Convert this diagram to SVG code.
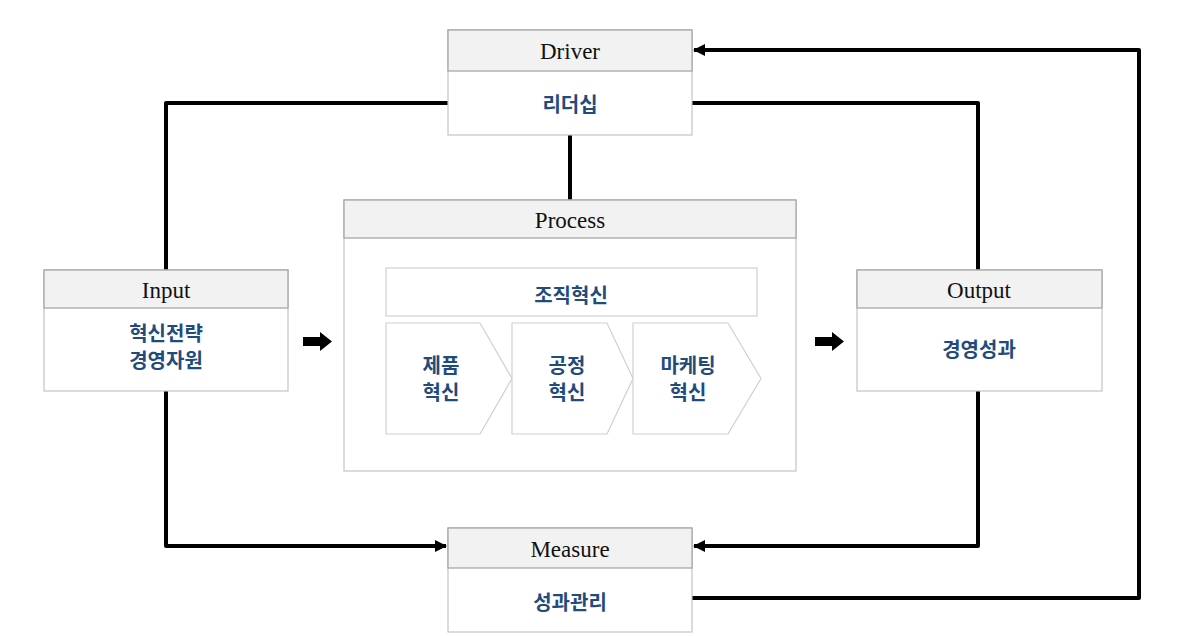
<svg xmlns="http://www.w3.org/2000/svg" width="1193" height="636" viewBox="0 0 1193 636">
<style>
.hdr{fill:#f2f2f2;stroke:#a0a0a0;stroke-width:1.2}
.body{fill:#ffffff;stroke:#c4c4c4;stroke-width:1.2}
.in{fill:#ffffff;stroke:#d0d0d0;stroke-width:1.2}
.ht{font-family:"Liberation Serif",serif;font-size:23px;fill:#111;text-anchor:middle}
.kt{font-family:"Noto Sans CJK KR",sans-serif;font-size:20px;font-weight:bold;fill:#1f4b7d;text-anchor:middle;dominant-baseline:central}
.ln{fill:none;stroke:#000;stroke-width:4;stroke-linejoin:round}
</style>
<defs>
<marker id="ah" viewBox="0 0 12 12" refX="11" refY="6" markerWidth="12" markerHeight="12" markerUnits="userSpaceOnUse" orient="auto">
<path d="M0,0 L12,6 L0,12 Z" fill="#000"/>
</marker>
</defs>
<g id="connectors">
<path class="ln" d="M448,103 H166 V270"/>
<path class="ln" d="M166,391 V546 H446" marker-end="url(#ah)"/>
<path class="ln" d="M692,103 H978 V270"/>
<path class="ln" d="M978,391 V546 H694" marker-end="url(#ah)"/>
<path class="ln" d="M570,135 V200"/>
<path class="ln" d="M692,598 H1139 V50 H694" marker-end="url(#ah)"/>
<path d="M303,337 H320 V332 L332,341.5 L320,351 V346 H303 Z" fill="#000"/>
<path d="M815,337 H832 V332 L844,341.5 L832,351 V346 H815 Z" fill="#000"/>
</g>
<g id="driver">
<rect class="body" x="448" y="30" width="244" height="105"/>
<rect class="hdr" x="448" y="30" width="244" height="41"/>
<text class="ht" x="570" y="59">Driver</text>
<text class="kt" x="570" y="103">리더십</text>
</g>
<g id="input">
<rect class="body" x="44" y="270" width="244" height="121"/>
<rect class="hdr" x="44" y="270" width="244" height="38"/>
<text class="ht" x="166" y="298">Input</text>
<text class="kt" x="166" y="332">혁신전략</text>
<text class="kt" x="166" y="359">경영자원</text>
</g>
<g id="process">
<rect class="body" x="344" y="200" width="452" height="271"/>
<rect class="hdr" x="344" y="200" width="452" height="38"/>
<text class="ht" x="570" y="228">Process</text>
</g>
<g id="org">
<rect class="in" x="386" y="268" width="371" height="48"/>
<text class="kt" x="571" y="294">조직혁신</text>
</g>
<g id="product">
<path class="in" d="M386,323 H480 L512,378.5 L480,434 H386 Z"/>
<text class="kt" x="441" y="364">제품</text>
<text class="kt" x="441" y="391">혁신</text>
</g>
<g id="processinn">
<path class="in" d="M512,323 H607 L633,378.5 L607,434 H512 Z"/>
<text class="kt" x="567" y="364">공정</text>
<text class="kt" x="567" y="391">혁신</text>
</g>
<g id="marketing">
<path class="in" d="M633,323 H728 L761,378.5 L728,434 H633 Z"/>
<text class="kt" x="688" y="364">마케팅</text>
<text class="kt" x="688" y="391">혁신</text>
</g>
<g id="output">
<rect class="body" x="857" y="270" width="245" height="121"/>
<rect class="hdr" x="857" y="270" width="245" height="38"/>
<text class="ht" x="979" y="298">Output</text>
<text class="kt" x="979" y="348">경영성과</text>
</g>
<g id="measure">
<rect class="body" x="448" y="528" width="244" height="104"/>
<rect class="hdr" x="448" y="528" width="244" height="40"/>
<text class="ht" x="570" y="557">Measure</text>
<text class="kt" x="570" y="601">성과관리</text>
</g>
</svg>
